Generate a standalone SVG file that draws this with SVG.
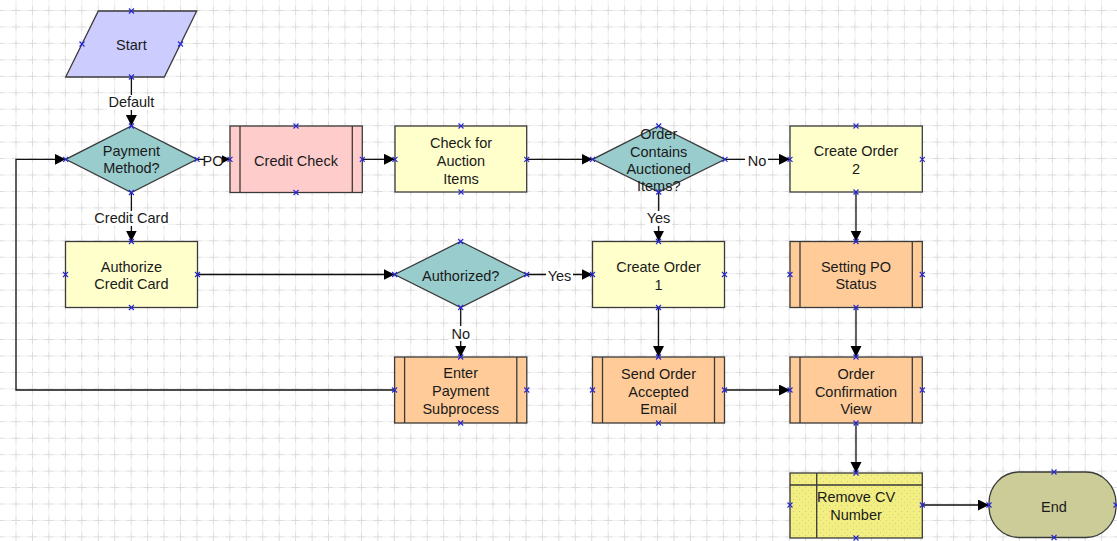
<svg xmlns="http://www.w3.org/2000/svg" width="1117" height="541" viewBox="0 0 1117 541">
  <style>
    text { font-family: "Liberation Sans", Arial, sans-serif; font-size: 14.5px; fill: #1a1a1a; text-anchor: middle; }
    .node { stroke: #3a3a3a; stroke-width: 1.3; }
    .inner { stroke: #3a3a3a; stroke-width: 1.3; fill: none; }
    .task { fill: #ffffcc; }
    .sub { fill: #ffcc99; }
    .decision { fill: #99cccc; }
    .conn { fill: none; stroke: #111; stroke-width: 1.3; }
    .arrow { marker-end: url(#head); }
    .lblbg { fill: #ffffff; }
  </style>
  <defs>
    <!-- faint drawing-canvas grid -->
    <pattern id="grid" patternUnits="userSpaceOnUse" x="7.775" y="2.275" width="16.45" height="16.45">
      <path d="M8.225,0 V16.45 M0,8.225 H16.45" stroke="#efefef" stroke-width="1"/>
      <path d="M8.225,4 V12.45 M4,8.225 H12.45" stroke="#dadada" stroke-width="1"/>
    </pattern>
    <!-- speckle texture for the manual-task fill -->
    <pattern id="speckle" patternUnits="userSpaceOnUse" width="6" height="6">
      <rect width="6" height="6" fill="#f2ee80"/>
      <rect x="1" y="1" width="1" height="1" fill="#c9c79a"/>
      <rect x="4" y="4" width="1" height="1" fill="#d4d29a"/>
    </pattern>
    <marker id="head" markerUnits="userSpaceOnUse" markerWidth="12" markerHeight="12" refX="11" refY="5.5" orient="auto">
      <path d="M0,0 L11,5.5 L0,11 Z" fill="#000"/>
    </marker>
    <!-- connection port marker -->
    <path id="port" d="M-2.5,-2.5 L2.5,2.5 M2.5,-2.5 L-2.5,2.5" stroke="#2626d9" stroke-width="1.1" fill="none"/>
  </defs>

  <rect width="1117" height="541" fill="#ffffff"/>
  <rect width="1117" height="541" fill="url(#grid)"/>

  <!-- connectors and their labels -->
  <g id="connectors">
    <path class="conn arrow" d="M131.4,77 V126"/>
    <path class="conn arrow" d="M197,159.3 H230"/>
    <path class="conn arrow" d="M131.4,192.5 V241.5"/>
    <path class="conn arrow" d="M362.3,159.3 H395"/>
    <path class="conn arrow" d="M526.7,159.3 H592.5"/>
    <path class="conn arrow" d="M725,159.3 H790"/>
    <path class="conn arrow" d="M658.7,192 V241.5"/>
    <path class="conn arrow" d="M197.5,274.5 H394.6"/>
    <path class="conn arrow" d="M526.7,274.5 H592.5"/>
    <path class="conn arrow" d="M460.7,307.5 V357"/>
    <path class="conn arrow" d="M394.6,390 H16 V159.3 H65.7"/>
    <path class="conn arrow" d="M856,192 V241.5"/>
    <path class="conn arrow" d="M658.5,307.5 V357"/>
    <path class="conn arrow" d="M856,307.5 V357"/>
    <path class="conn arrow" d="M724.5,390 H790"/>
    <path class="conn arrow" d="M856,423 V473"/>
    <path class="conn arrow" d="M922.3,505 H989"/>

    <rect class="lblbg" x="107" y="95" width="49" height="15"/>
    <text x="131.4" y="107.3">Default</text>
    <rect class="lblbg" x="204" y="153" width="18" height="15"/>
    <text x="213" y="165.5">PO</text>
    <rect class="lblbg" x="95" y="211" width="73" height="15"/>
    <text x="131.4" y="223.3">Credit Card</text>
    <rect class="lblbg" x="745" y="153" width="23" height="15"/>
    <text x="757" y="165.5">No</text>
    <rect class="lblbg" x="645" y="211" width="27" height="15"/>
    <text x="658.5" y="223.3">Yes</text>
    <rect class="lblbg" x="546" y="268" width="27" height="15"/>
    <text x="559.5" y="281">Yes</text>
    <rect class="lblbg" x="449" y="326" width="23" height="15"/>
    <text x="460.7" y="339">No</text>
  </g>

  <g id="start">
    <polygon class="node" points="98.3,11 196.7,11 164.3,77 65.7,77" fill="#ccccff"/>
    <text x="131.4" y="50">Start</text>
    <use href="#port" x="131.4" y="11"/><use href="#port" x="131.4" y="77"/>
    <use href="#port" x="82" y="44"/><use href="#port" x="180.5" y="44"/>
  </g>

  <g id="payment-method">
    <polygon class="node decision" points="131.4,126 197,159.3 131.4,192.5 65.7,159.3"/>
    <text x="131.4" y="156">Payment</text>
    <text x="131.4" y="173.3">Method?</text>
    <use href="#port" x="131.4" y="126"/><use href="#port" x="131.4" y="192.5"/>
    <use href="#port" x="65.7" y="159.3"/><use href="#port" x="197" y="159.3"/>
  </g>

  <g id="credit-check">
    <rect class="node" x="230" y="126" width="132.3" height="66.5" fill="#ffcccc"/>
    <path class="inner" d="M240,126 V192.5 M352.3,126 V192.5"/>
    <text x="296" y="165.5">Credit Check</text>
    <use href="#port" x="296" y="126"/><use href="#port" x="296" y="192.5"/>
    <use href="#port" x="230" y="159.3"/><use href="#port" x="362.3" y="159.3"/>
  </g>

  <g id="check-auction">
    <rect class="node task" x="395" y="126" width="131.7" height="66"/>
    <text x="461" y="148.3">Check for</text>
    <text x="461" y="166">Auction</text>
    <text x="461" y="183.5">Items</text>
    <use href="#port" x="461" y="126"/><use href="#port" x="461" y="192"/>
    <use href="#port" x="395" y="159.3"/><use href="#port" x="526.7" y="159.3"/>
  </g>

  <g id="order-contains">
    <polygon class="node decision" points="658.7,126 725,159.3 658.7,192 592.5,159.3"/>
    <text x="658.7" y="139.3">Order</text>
    <text x="658.7" y="156.5">Contains</text>
    <text x="658.7" y="174">Auctioned</text>
    <text x="658.7" y="191.3">Items?</text>
    <use href="#port" x="658.7" y="126"/><use href="#port" x="658.7" y="192"/>
    <use href="#port" x="592.5" y="159.3"/><use href="#port" x="725" y="159.3"/>
  </g>

  <g id="create-order-2">
    <rect class="node task" x="790" y="126" width="132.3" height="66"/>
    <text x="856" y="156">Create Order</text>
    <text x="856" y="173.5">2</text>
    <use href="#port" x="856" y="126"/><use href="#port" x="856" y="192"/>
    <use href="#port" x="790" y="159.3"/><use href="#port" x="922.3" y="159.3"/>
  </g>

  <g id="authorize-credit-card">
    <rect class="node task" x="65.5" y="241.5" width="132" height="66"/>
    <text x="131.4" y="271.7">Authorize</text>
    <text x="131.4" y="289.3">Credit Card</text>
    <use href="#port" x="131.4" y="241.5"/><use href="#port" x="131.4" y="307.5"/>
    <use href="#port" x="65.5" y="274.5"/><use href="#port" x="197.5" y="274.5"/>
  </g>

  <g id="authorized">
    <polygon class="node decision" points="460.7,241.5 526.7,274.5 460.7,307.5 394.6,274.5"/>
    <text x="460.7" y="281">Authorized?</text>
    <use href="#port" x="460.7" y="241.5"/><use href="#port" x="460.7" y="307.5"/>
    <use href="#port" x="394.6" y="274.5"/><use href="#port" x="526.7" y="274.5"/>
  </g>

  <g id="create-order-1">
    <rect class="node task" x="592.5" y="241.5" width="132" height="66"/>
    <text x="658.5" y="272.3">Create Order</text>
    <text x="658.5" y="289.5">1</text>
    <use href="#port" x="658.5" y="241.5"/><use href="#port" x="658.5" y="307.5"/>
    <use href="#port" x="592.5" y="274.5"/><use href="#port" x="724.5" y="274.5"/>
  </g>

  <g id="setting-po-status">
    <rect class="node sub" x="790" y="241.5" width="132.3" height="66"/>
    <path class="inner" d="M800,241.5 V307.5 M912.3,241.5 V307.5"/>
    <text x="856" y="271.7">Setting PO</text>
    <text x="856" y="289">Status</text>
    <use href="#port" x="856" y="241.5"/><use href="#port" x="856" y="307.5"/>
    <use href="#port" x="790" y="274.5"/><use href="#port" x="922.3" y="274.5"/>
  </g>

  <g id="enter-payment-subprocess">
    <rect class="node sub" x="394.6" y="357" width="132.2" height="66"/>
    <path class="inner" d="M404.6,357 V423 M516.8,357 V423"/>
    <text x="460.7" y="378.3">Enter</text>
    <text x="460.7" y="396.3">Payment</text>
    <text x="460.7" y="414">Subprocess</text>
    <use href="#port" x="460.7" y="357"/><use href="#port" x="460.7" y="423"/>
    <use href="#port" x="394.6" y="390"/><use href="#port" x="526.8" y="390"/>
  </g>

  <g id="send-order-accepted-email">
    <rect class="node sub" x="592.5" y="357" width="132" height="66"/>
    <path class="inner" d="M602.5,357 V423 M714.5,357 V423"/>
    <text x="658.5" y="378.8">Send Order</text>
    <text x="658.5" y="396.5">Accepted</text>
    <text x="658.5" y="414">Email</text>
    <use href="#port" x="658.5" y="357"/><use href="#port" x="658.5" y="423"/>
    <use href="#port" x="592.5" y="390"/><use href="#port" x="724.5" y="390"/>
  </g>

  <g id="order-confirmation-view">
    <rect class="node sub" x="790" y="357" width="132.3" height="66"/>
    <path class="inner" d="M800,357 V423 M912.3,357 V423"/>
    <text x="856" y="378.8">Order</text>
    <text x="856" y="396.5">Confirmation</text>
    <text x="856" y="414">View</text>
    <use href="#port" x="856" y="357"/><use href="#port" x="856" y="423"/>
    <use href="#port" x="790" y="390"/><use href="#port" x="922.3" y="390"/>
  </g>

  <g id="remove-cv-number">
    <rect class="node" x="790" y="473" width="132.3" height="65" fill="url(#speckle)"/>
    <path class="inner" d="M790,485 H922.3 M816.7,473 V538"/>
    <text x="856" y="502.3">Remove CV</text>
    <text x="856" y="519.8">Number</text>
    <use href="#port" x="856" y="473"/><use href="#port" x="856" y="538"/>
    <use href="#port" x="790" y="505"/><use href="#port" x="922.3" y="505"/>
  </g>

  <g id="end">
    <rect class="node" x="989" y="472" width="127" height="65.5" rx="30" ry="31" fill="#cccc99"/>
    <text x="1054" y="511.7">End</text>
    <use href="#port" x="1054" y="472"/><use href="#port" x="1054" y="537.5"/>
    <use href="#port" x="989" y="505"/><use href="#port" x="1116" y="505"/>
  </g>
</svg>
